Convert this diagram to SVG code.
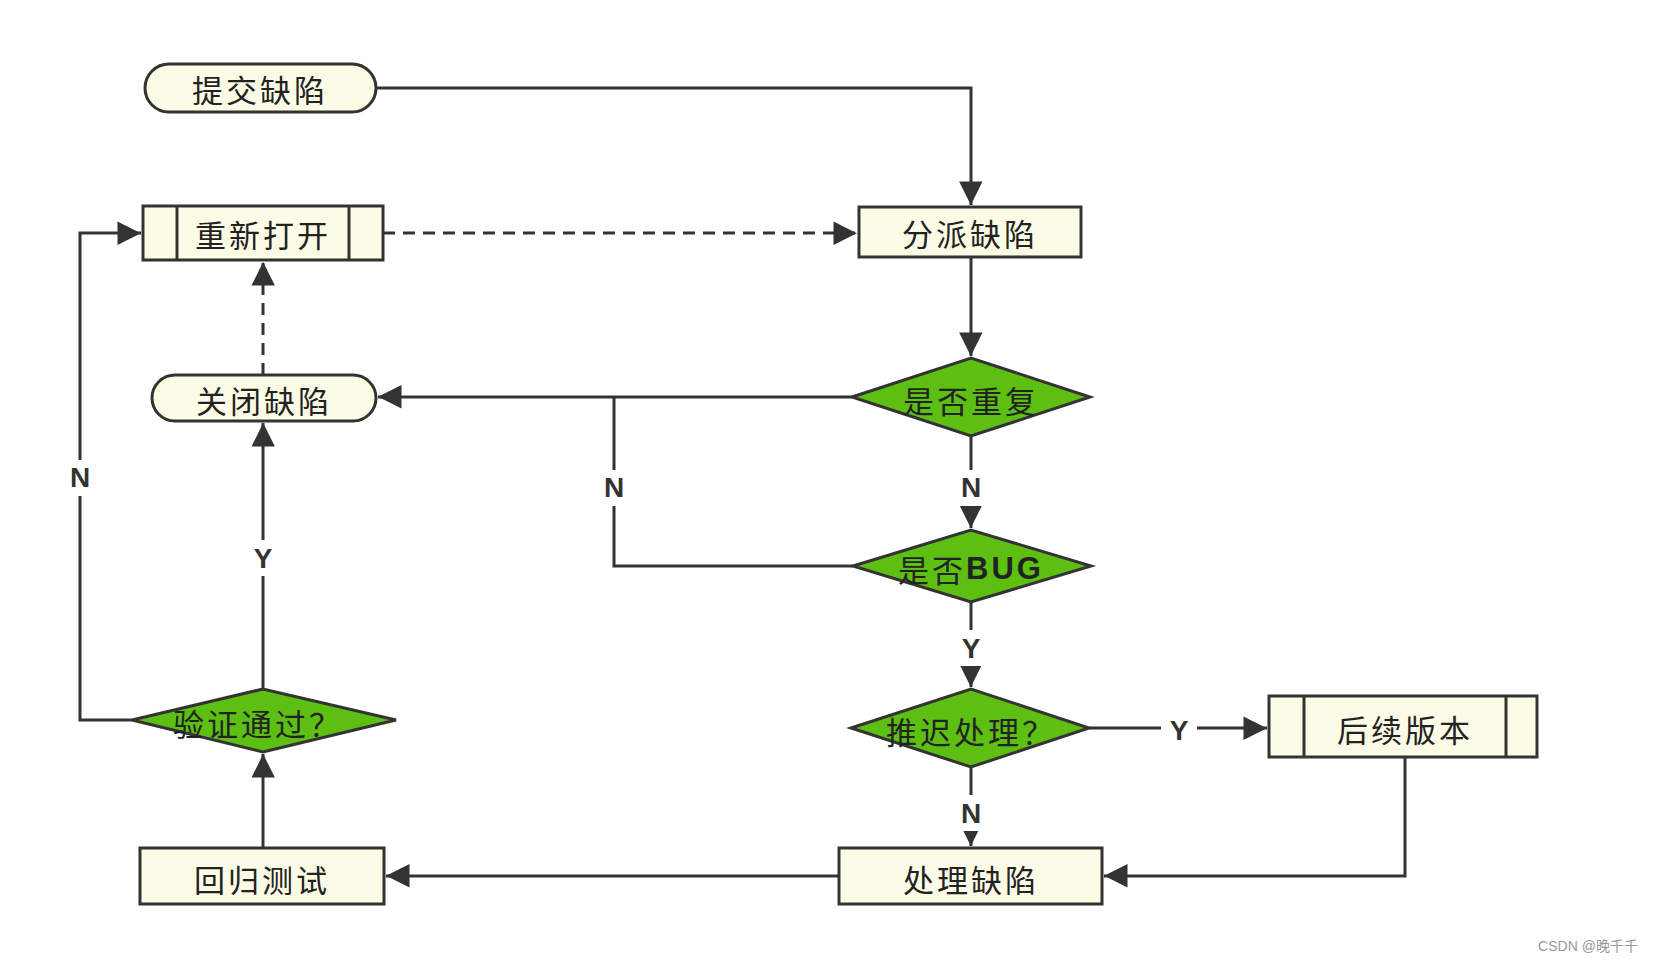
<svg xmlns="http://www.w3.org/2000/svg" width="1653" height="963" viewBox="0 0 1653 963">
<style>
.n{fill:#fcfce6;stroke:#333;stroke-width:3}
.d{fill:#5cbf12;stroke:#333;stroke-width:3}
.t{font-family:"Noto Sans CJK SC","Noto Sans",sans-serif;font-size:31px;fill:#222;text-anchor:middle;dominant-baseline:central;letter-spacing:3px}
.l{font-family:"Liberation Sans",sans-serif;font-weight:bold;font-size:28px;fill:#333;text-anchor:middle;dominant-baseline:central}
.c{fill:none;stroke:#333;stroke-width:3}
.dash{stroke-dasharray:12 8}
</style>
<defs>
<marker id="a" viewBox="0 0 10 10" refX="10" refY="5" markerWidth="9" markerHeight="9" markerUnits="userSpaceOnUse" orient="auto-start-reverse" style="overflow:visible">
<path d="M0,0 L10,5 L0,10 Z" fill="#333" transform="scale(2.6) translate(-6.2,-3)"/>
</marker>
</defs>
<rect width="1653" height="963" fill="#fff"/>
<g id="connectors">
<path class="c" d="M376,88 H971 V205" marker-end="url(#a)"/>
<path class="c dash" d="M383,233 H857" marker-end="url(#a)"/>
<path class="c dash" d="M263,375 V262" marker-end="url(#a)"/>
<path class="c" d="M971,257 V356" marker-end="url(#a)"/>
<path class="c" d="M852,397 H378" marker-end="url(#a)"/>
<path class="c" d="M853,566 H614 V397"/>
<path class="c" d="M971,436 V528" marker-end="url(#a)"/>
<path class="c" d="M971,602 V687" marker-end="url(#a)"/>
<path class="c" d="M1089,728 H1267" marker-end="url(#a)"/>
<path class="c" d="M971,767 V846" marker-end="url(#a)"/>
<path class="c" d="M1405,757 V876 H1104" marker-end="url(#a)"/>
<path class="c" d="M839,876 H386" marker-end="url(#a)"/>
<path class="c" d="M263,848 V754" marker-end="url(#a)"/>
<path class="c" d="M263,689 V423" marker-end="url(#a)"/>
<path class="c" d="M132,720 H80 V233 H141" marker-end="url(#a)"/>
</g>
<g id="labels">
<rect x="60" y="460" width="40" height="36" fill="#fff"/><text class="l" x="80" y="477">N</text>
<rect x="245" y="540" width="36" height="36" fill="#fff"/><text class="l" x="263" y="558">Y</text>
<rect x="595" y="470" width="38" height="36" fill="#fff"/><text class="l" x="614" y="487">N</text>
<rect x="952" y="470" width="38" height="36" fill="#fff"/><text class="l" x="971" y="487">N</text>
<rect x="953" y="630" width="36" height="36" fill="#fff"/><text class="l" x="971" y="648">Y</text>
<rect x="952" y="795" width="38" height="36" fill="#fff"/><text class="l" x="971" y="813">N</text>
<rect x="1161" y="712" width="36" height="36" fill="#fff"/><text class="l" x="1179" y="730">Y</text>
</g>
<g id="submit"><rect class="n" x="145" y="64" width="231" height="48" rx="24"/><text class="t" x="260" y="88">提交缺陷</text></g>
<g id="reopen"><rect class="n" x="143" y="206" width="240" height="54"/><path class="c" d="M177,206 V260 M349,206 V260"/><text class="t" x="263" y="233">重新打开</text></g>
<g id="assign"><rect class="n" x="859" y="207" width="222" height="50"/><text class="t" x="970" y="232">分派缺陷</text></g>
<g id="dup"><path class="d" d="M852,397 L971,358 L1090,397 L971,436 Z"/><text class="t" x="971" y="399">是否重复</text></g>
<g id="close"><rect class="n" x="152" y="375" width="224" height="46" rx="23"/><text class="t" x="264" y="399">关闭缺陷</text></g>
<g id="bug"><path class="d" d="M853,566 L971,530 L1091,566 L971,602 Z"/><text class="t" x="971" y="568">是否<tspan font-family="Liberation Sans,sans-serif" font-weight="bold">BUG</tspan></text></g>
<g id="defer"><path class="d" d="M851,728 L971,689 L1089,728 L971,767 Z"/><text class="t" x="971" y="730">推迟处理？</text></g>
<g id="later"><rect class="n" x="1269" y="696" width="268" height="61"/><path class="c" d="M1304,696 V757 M1506,696 V757"/><text class="t" x="1405" y="728">后续版本</text></g>
<g id="fix"><rect class="n" x="839" y="848" width="263" height="56"/><text class="t" x="971" y="878">处理缺陷</text></g>
<g id="regress"><rect class="n" x="140" y="848" width="244" height="56"/><text class="t" x="262" y="878">回归测试</text></g>
<g id="verify"><path class="d" d="M132,720 L263,689 L396,720 L263,752 Z"/><text class="t" x="258" y="722">验证通过？</text></g>
<text x="1588" y="951" font-family="Liberation Sans,Noto Sans CJK SC,sans-serif" font-size="14" fill="#999" text-anchor="middle">CSDN @晚千千</text>
</svg>
